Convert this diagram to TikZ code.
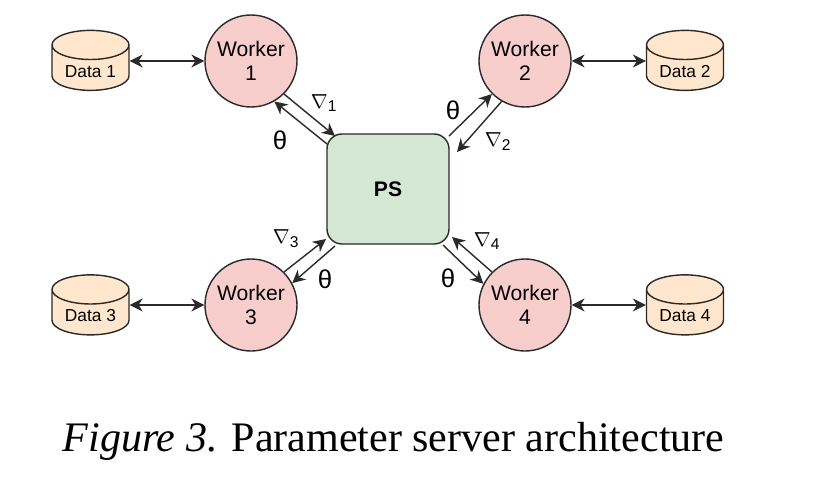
\documentclass[tikz,border=0pt]{standalone}
\usepackage{fontspec}
\setmainfont{Liberation Sans}
\newfontfamily\capfont{Liberation Serif}
\usetikzlibrary{arrows.meta}
\usetikzlibrary{shapes.geometric}
\definecolor{workerfill}{HTML}{F8CECC}
\definecolor{psfill}{HTML}{D5E8D4}
\definecolor{datafill}{HTML}{FFE6CC}
\definecolor{edge}{HTML}{2A2A2A}
\tikzset{worker/.style = {draw = edge, line width = 1.2pt, fill = workerfill, circle, inner sep = 0, minimum size = 92 * 0.03cm, align = center, font = \fontsize{18}{20.5}\selectfont}}
\tikzset{ps/.style = {draw = edge, line width = 1.2pt, fill = psfill, rectangle, rounded corners = 0.45cm, inner sep = 0, minimum width = 122 * 0.03cm, minimum height = 110 * 0.03cm, font = \fontsize{18}{20.5}\selectfont\bfseries}}
\tikzset{data/.style = {draw = edge, line width = 1.2pt, fill = datafill, cylinder, shape border rotate = 90, aspect = 0.57, inner sep = 0, minimum width = 77 * 0.03cm, minimum height = 60 * 0.03cm, font = \fontsize{14.8}{17}\selectfont}}
\tikzset{link/.style = {edge, line width = 1.2pt, -{Stealth[length = 11pt, width = 11pt, inset = 3.5pt]}}}
\tikzset{both/.style = {edge, line width = 1.2pt, {Stealth[length = 11pt, width = 11pt, inset = 3.5pt]}-{Stealth[length = 11pt, width = 11pt, inset = 3.5pt]}}}
\tikzset{lab/.style = {inner sep = 0, font = \fontsize{19}{20}\selectfont}}
\tikzset{thetalab/.style = {inner sep = 0, font = \fontsize{22}{24}\selectfont}}
\newcommand{\gradsym}[1]{$\nabla$\textsubscript{#1}}
\newcommand{\datatext}[1]{\raisebox{-0.27cm}[0pt][0pt]{#1}}

\begin{document}
\begin{tikzpicture}[x = 0.03cm, y = -0.03cm]

    \useasboundingbox (0, 0) rectangle (833, 497);

    \node [worker] (w1) at (251, 61) {Worker\\1};
    \node [worker] (w2) at (525, 61) {Worker\\2};
    \node [worker] (w3) at (251, 305) {Worker\\3};
    \node [worker] (w4) at (525, 305) {Worker\\4};
    \node [ps] (ps) at (388, 189) {PS};

    \node [data] (d1) at (90.5, 68) {\datatext{Data 1}};
    \node [data] (d2) at (685, 68) {\datatext{Data 2}};
    \node [data] (d3) at (90.5, 312.5) {\datatext{Data 3}};
    \node [data] (d4) at (685, 312.5) {\datatext{Data 4}};

    \coordinate (p1a) at (335, 136);
    \coordinate (p1b) at (327, 144);
    \coordinate (p2a) at (449, 136);
    \coordinate (p2b) at (457, 152);
    \coordinate (p3a) at (326, 239);
    \coordinate (p3b) at (335, 246);
    \coordinate (p4a) at (452, 237);
    \coordinate (p4b) at (443, 245);

    \draw [both] (d1.east |- w1) -- (w1);
    \draw [both] (w2) -- (d2.west |- w2);
    \draw [both] (d3.east |- w3) -- (w3);
    \draw [both] (w4) -- (d4.west |- w4);

    \draw [link] (w1.-45) -- (p1a);
    \draw [link] (p1b) -- (w1.-60);
    \draw [link] (p2a) -- (w2.-135);
    \draw [link] (w2.-120) -- (p2b);
    \draw [link] (w3.45) -- (p3a);
    \draw [link] (p3b) -- (w3.28);
    \draw [link] (w4.135) -- (p4a);
    \draw [link] (p4b) -- (w4.153);

    \node [lab] (g1) at (324, 103) {\gradsym{1}};
    \node [lab] (g2) at (498, 142) {\gradsym{2}};
    \node [lab] (g3) at (286, 239) {\gradsym{3}};
    \node [lab] (g4) at (487, 241) {\gradsym{4}};
    \node [thetalab] (t1) at (280, 140) {θ};
    \node [thetalab] (t2) at (453, 110) {θ};
    \node [thetalab] (t3) at (325, 279) {θ};
    \node [thetalab] (t4) at (448, 278) {θ};

    \node [inner sep = 0, font = \fontsize{35.9}{40}\selectfont\capfont] (caption) at (393.5, 441) {\textit{Figure 3.} Parameter server architecture};

  \end{tikzpicture}
\end{document}
